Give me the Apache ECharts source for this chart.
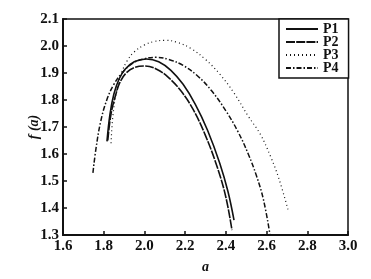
<!DOCTYPE html>
<html>
<head>
<meta charset="utf-8">
<script src="https://cdn.jsdelivr.net/npm/echarts@6/dist/echarts.min.js"></script>
<style>html,body{margin:0;padding:0;background:#fff;}#c{width:371px;height:279px;}</style>
</head>
<body>
<div id="c"></div>
<script>
var seriesNames = ['P1', 'P2', 'P3', 'P4'];
var xTicks = ['1.6', '1.8', '2.0', '2.2', '2.4', '2.6', '2.8', '3.0'];
var yTicks = ['1.3', '1.4', '1.5', '1.6', '1.7', '1.8', '1.9', '2.0', '2.1'];

var p1 = [[1.816,1.647],[1.831,1.749],[1.850,1.822],[1.875,1.877],[1.905,1.914],[1.950,1.942],[2.010,1.952],[2.070,1.942],[2.130,1.910],[2.190,1.858],[2.250,1.784],[2.310,1.688],[2.370,1.566],[2.410,1.462],[2.440,1.355]];
var p2 = [[1.820,1.650],[1.836,1.749],[1.860,1.822],[1.880,1.866],[1.910,1.900],[1.950,1.920],[2.000,1.926],[2.060,1.914],[2.120,1.882],[2.180,1.833],[2.240,1.764],[2.300,1.668],[2.360,1.546],[2.400,1.440],[2.430,1.318]];
var p3 = [[1.836,1.640],[1.845,1.740],[1.862,1.830],[1.885,1.895],[1.915,1.945],[1.950,1.978],[2.000,2.004],[2.050,2.017],[2.100,2.021],[2.160,2.014],[2.230,1.990],[2.300,1.950],[2.370,1.896],[2.440,1.826],[2.510,1.740],[2.570,1.672],[2.620,1.590],[2.660,1.510],[2.705,1.395]];
var p4 = [[1.747,1.530],[1.762,1.620],[1.785,1.720],[1.815,1.800],[1.850,1.858],[1.890,1.900],[1.940,1.935],[2.000,1.953],[2.060,1.958],[2.120,1.950],[2.190,1.928],[2.260,1.890],[2.330,1.834],[2.400,1.760],[2.460,1.682],[2.510,1.600],[2.550,1.520],[2.585,1.430],[2.617,1.300]];

var serif = 'Liberation Serif';
var chart = echarts.init(document.getElementById('c'), null, {renderer: 'canvas'});

function mk(name, data, type, width) {
  return {
    name: name, type: 'line', data: data, smooth: 0.4, showSymbol: false, symbol: 'none',
    lineStyle: {color: '#111', width: width, type: type}, itemStyle: {color: '#111'}, silent: true, animation: false
  };
}

chart.setOption({
  animation: false,
  backgroundColor: '#fff',
  grid: {left: 63, top: 19, right: 23, bottom: 41, show: true, borderColor: '#111', borderWidth: 1.5},
  legend: {
    orient: 'vertical', left: 279, top: 19,
    data: seriesNames,
    itemWidth: 32, itemHeight: 8, itemGap: -1,
    padding: [3, 10, 3, 6],
    borderColor: '#111', borderWidth: 1.5, backgroundColor: '#fff',
    itemStyle: {opacity: 0},
    textStyle: {fontFamily: serif, fontWeight: 'bold', fontSize: 14, color: '#111', lineHeight: 12}
  },
  xAxis: {
    type: 'value', min: 1.6, max: 3.0, interval: 0.2,
    name: 'a', nameLocation: 'middle', nameGap: 25, nameMoveOverlap: false,
    nameTextStyle: {fontFamily: serif, fontStyle: 'italic', fontWeight: 'bold', fontSize: 14, color: '#111'},
    axisLine: {lineStyle: {color: '#111', width: 2}},
    axisTick: {inside: true, length: 4, lineStyle: {color: '#111', width: 1.5}},
    splitLine: {show: false},
    axisLabel: {margin: 4, fontFamily: serif, fontWeight: 'bold', fontSize: 15, color: '#111',
      formatter: function (v) { var s = v.toFixed(1); return xTicks.indexOf(s) >= 0 ? s : ''; }}
  },
  yAxis: {
    type: 'value', min: 1.3, max: 2.1, interval: 0.1,
    name: 'f (a)', nameLocation: 'middle', nameGap: 22, nameRotate: 90, nameMoveOverlap: false,
    nameTextStyle: {fontFamily: serif, fontStyle: 'italic', fontWeight: 'bold', fontSize: 14, color: '#111'},
    axisLine: {show: true, lineStyle: {color: '#111', width: 2}},
    axisTick: {show: true, inside: true, length: 4, lineStyle: {color: '#111', width: 1.5}},
    splitLine: {show: false},
    axisLabel: {margin: 4, fontFamily: serif, fontWeight: 'bold', fontSize: 15, color: '#111',
      formatter: function (v) { var s = v.toFixed(1); return yTicks.indexOf(s) >= 0 ? s : ''; }}
  },
  series: [
    mk('P1', p1, 'solid', 1.6),
    mk('P2', p2, [9, 1.2], 1.6),
    mk('P3', p3, [1, 3], 1.2),
    mk('P4', p4, [5, 2, 1.5, 2], 1.5)
  ]
});
</script>
</body>
</html>
